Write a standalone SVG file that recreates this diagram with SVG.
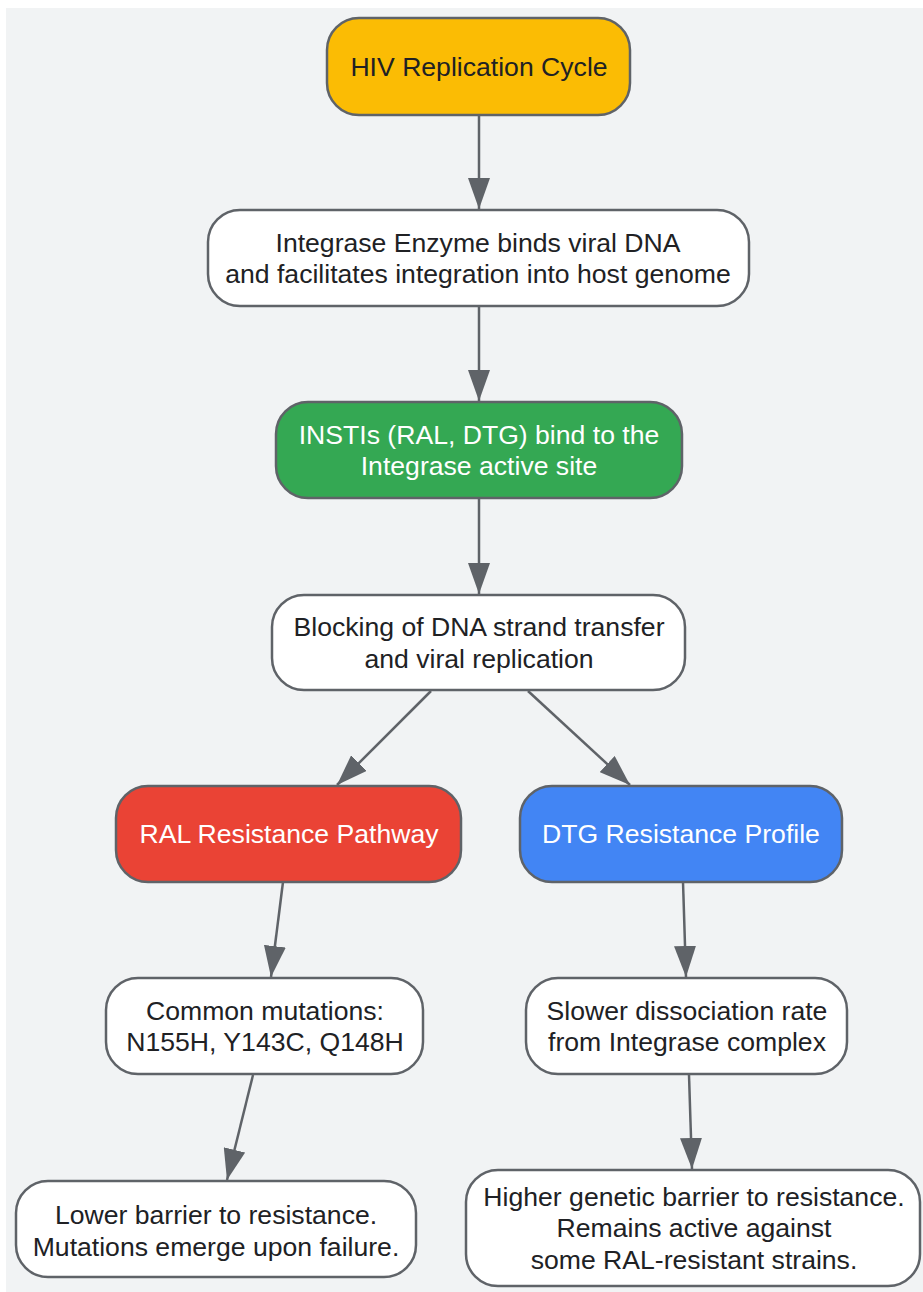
<svg xmlns="http://www.w3.org/2000/svg" width="923" height="1292" viewBox="0 0 923 1292">
<defs>
<style>
.n{stroke:#5f6368;stroke-width:2.5}
.w{fill:#ffffff}
.t{font-family:"Liberation Sans",Arial,sans-serif;font-size:26.6px;text-anchor:middle;fill:#202124}
.tw{fill:#ffffff}
.c{stroke:#5f6368;stroke-width:2.5;fill:none;marker-end:url(#ah)}
</style>
<marker id="ah" markerUnits="userSpaceOnUse" markerWidth="32" markerHeight="22" viewBox="0 0 32 22" refX="31" refY="11" orient="auto">
<path d="M0,0 L31,11 L0,22 z" fill="#5f6368"/>
</marker>
</defs>
<rect x="0" y="0" width="923" height="1292" fill="#ffffff"/>
<rect x="6" y="8" width="917" height="1284" fill="#f1f3f4"/>
<g id="connectors">
<line class="c" x1="479" y1="115" x2="479" y2="209"/>
<line class="c" x1="479" y1="306" x2="479" y2="401"/>
<line class="c" x1="479" y1="498" x2="479" y2="594"/>
<line class="c" x1="431" y1="691" x2="337" y2="785"/>
<line class="c" x1="528" y1="691" x2="630" y2="785"/>
<line class="c" x1="283" y1="882" x2="271" y2="977"/>
<line class="c" x1="683" y1="882" x2="686" y2="977"/>
<line class="c" x1="253" y1="1075" x2="227" y2="1180"/>
<line class="c" x1="689" y1="1075" x2="692" y2="1169"/>
</g>
<g id="n1">
<rect class="n" x="327" y="18" width="303" height="97" rx="32" fill="#fbbc04"/>
<text class="t" x="479" y="76">HIV Replication Cycle</text>
</g>
<g id="n2">
<rect class="n w" x="208" y="210" width="541" height="96" rx="32"/>
<text class="t" x="478" y="252">Integrase Enzyme binds viral DNA</text>
<text class="t" x="478" y="283">and facilitates integration into host genome</text>
</g>
<g id="n3">
<rect class="n" x="276" y="402" width="406" height="96" rx="32" fill="#34a853"/>
<text class="t tw" x="479" y="444">INSTIs (RAL, DTG) bind to the</text>
<text class="t tw" x="479" y="475">Integrase active site</text>
</g>
<g id="n4">
<rect class="n w" x="272" y="595" width="413" height="95" rx="32"/>
<text class="t" x="479" y="636">Blocking of DNA strand transfer</text>
<text class="t" x="479" y="668">and viral replication</text>
</g>
<g id="n5">
<rect class="n" x="116" y="786" width="345" height="96" rx="32" fill="#ea4335"/>
<text class="t tw" x="289" y="843">RAL Resistance Pathway</text>
</g>
<g id="n6">
<rect class="n" x="520" y="786" width="322" height="96" rx="32" fill="#4285f4"/>
<text class="t tw" x="681" y="843">DTG Resistance Profile</text>
</g>
<g id="n7">
<rect class="n w" x="106" y="978" width="317" height="96" rx="32"/>
<text class="t" x="265" y="1020">Common mutations:</text>
<text class="t" x="265" y="1051">N155H, Y143C, Q148H</text>
</g>
<g id="n8">
<rect class="n w" x="526" y="978" width="321" height="96" rx="32"/>
<text class="t" x="687" y="1020">Slower dissociation rate</text>
<text class="t" x="687" y="1051">from Integrase complex</text>
</g>
<g id="n9">
<rect class="n w" x="16" y="1181" width="400" height="96" rx="32"/>
<text class="t" x="216" y="1224">Lower barrier to resistance.</text>
<text class="t" x="216" y="1256">Mutations emerge upon failure.</text>
</g>
<g id="n10">
<rect class="n w" x="466" y="1170" width="454" height="116" rx="32"/>
<text class="t" x="694" y="1206">Higher genetic barrier to resistance.</text>
<text class="t" x="694" y="1237">Remains active against</text>
<text class="t" x="694" y="1269">some RAL-resistant strains.</text>
</g>
</svg>
